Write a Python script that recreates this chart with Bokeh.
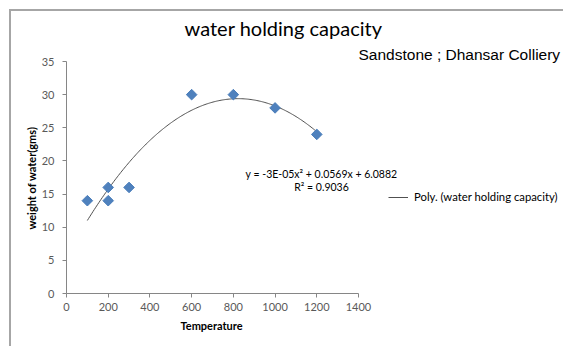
import numpy as np
from bokeh.plotting import figure
from bokeh.models import (Range1d, FixedTicker, Label, Legend, LegendItem, Title)
from bokeh.embed import file_html
from bokeh.resources import INLINE

# ---- data ----
temperature = [100, 200, 200, 300, 600, 800, 1000, 1200]
water_weight = [14, 16, 14, 16, 30, 30, 28, 24]
x_ticks = [0, 200, 400, 600, 800, 1000, 1200, 1400]
y_ticks = [0, 5, 10, 15, 20, 25, 30, 35]
title_text = "water holding capacity"
subtitle_text = "Sandstone ; Dhansar Colliery"
x_label = "Temperature"
y_label = "weight of water(gms)"
eq_text = "y = -3E-05x\u00b2 + 0.0569x + 6.0882"
r2_text = "R\u00b2 = 0.9036"
legend_text = "Poly. (water holding capacity)"

# polynomial trendline (order 2) fitted to the data
coef = np.polyfit(temperature, water_weight, 2)
tx = np.linspace(min(temperature), max(temperature), 200)
ty = np.polyval(coef, tx)

W, H = 563, 346
FL, FR, FT, FB = 66, 358, 61, 293  # pixel positions of axis extents

ux = 1400 / (FR - FL)   # data units per px (x)
uy = 35 / (FB - FT)     # data units per px (y)
def dx(px):
    return (px - FL) * ux
def dy(py):
    return (FB - py) * uy

# frame spans to the right and top edges so annotations are not clipped;
# axes are bounded to the real data extents
p = figure(width=W, height=H, output_backend="svg", toolbar_location=None,
           x_range=Range1d(0, dx(W)), y_range=Range1d(0, dy(0)),
           min_border=0, min_border_left=FL, min_border_right=0,
           min_border_top=0, min_border_bottom=H - FB)
p.title.visible = False
p.outline_line_color = None
p.xgrid.visible = False
p.ygrid.visible = False
p.background_fill_color = None
p.border_fill_color = None
p.styles = {
    "background-color": "white",
    "background-image": "linear-gradient(#a6a6a6,#a6a6a6), linear-gradient(#a6a6a6,#a6a6a6)",
    "background-size": "2px 100%, 100% 2px",
    "background-position": "8.5px 8.5px, 8.5px 8.5px",
    "background-repeat": "no-repeat",
}

tick_font = "Lato"
for ax in (p.xaxis[0], p.yaxis[0]):
    ax.axis_line_color = "#868686"
    ax.major_tick_line_color = "#868686"
    ax.minor_tick_line_color = None
    ax.major_tick_out = 4
    ax.major_tick_in = 0
    ax.major_label_text_font = tick_font
    ax.major_label_text_font_size = "11px"
    ax.major_label_text_color = "#595959"

p.xaxis.ticker = FixedTicker(ticks=x_ticks)
p.yaxis.ticker = FixedTicker(ticks=y_ticks)
p.xaxis.bounds = (x_ticks[0], x_ticks[-1])
p.yaxis.bounds = (y_ticks[0], y_ticks[-1])
p.xaxis.major_label_standoff = 5
p.yaxis.major_label_standoff = 8

# axis titles, positioned along the bounded axes (frame is wider than the axes)
xt = Title(text=x_label, align="left", offset=180 - FL,
           text_font=tick_font, text_font_size="11px", text_font_style="bold",
           text_color="#000000", standoff=6)
p.add_layout(xt, "below")
yt = Title(text=y_label, align="left", offset=FB - 229,
           text_font=tick_font, text_font_size="11px", text_font_style="bold",
           text_color="#000000", standoff=2)
p.add_layout(yt, "left")

# trendline
trend = p.line(tx, ty, line_color="#505050", line_width=1)

# data points as diamonds
p.scatter(temperature, water_weight, marker="square", angle=np.pi / 4, size=7.5,
          fill_color="#4F81BD", line_color="#4A7EBB", line_width=1)

# legend for trendline
legend = Legend(items=[LegendItem(label=legend_text, renderers=[trend])],
                location=(388 - FL, FB - 203), orientation="vertical",
                padding=0, margin=0, spacing=0, border_line_color=None,
                background_fill_alpha=0, glyph_width=20, glyph_height=12,
                label_height=12, label_standoff=6,
                label_text_font=tick_font, label_text_font_size="11.3px",
                label_text_color="#000000")
p.add_layout(legend, "center")

# equation text
p.add_layout(Label(x=dx(321), y=dy(173), text=eq_text, text_align="center",
                   text_baseline="middle", text_font=tick_font,
                   text_font_size="10.5px", text_color="#000000"))
p.add_layout(Label(x=dx(321), y=dy(186), text=r2_text, text_align="center",
                   text_baseline="middle", text_font=tick_font,
                   text_font_size="10.5px", text_color="#000000"))

# title and subtitle
p.add_layout(Label(x=dx(283), y=dy(27), text=title_text, text_align="center",
                   text_baseline="middle", text_font=tick_font,
                   text_font_size="20px", text_color="#000000"))
p.add_layout(Label(x=dx(358), y=dy(54), text=subtitle_text, text_align="left",
                   text_baseline="middle", text_font="Liberation Sans",
                   text_font_size="15.5px", text_color="#000000"))

open("out.html", "w").write(file_html(p, INLINE))
